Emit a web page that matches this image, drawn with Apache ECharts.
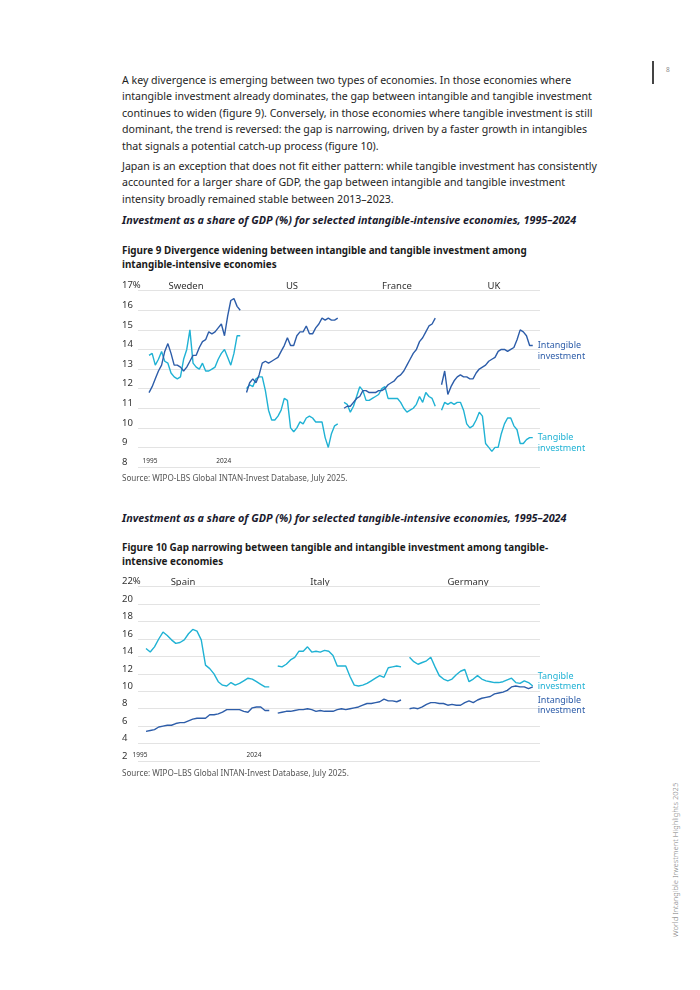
<!DOCTYPE html>
<html>
<head>
<meta charset="utf-8">
<script src="https://cdn.jsdelivr.net/npm/echarts@6/dist/echarts.min.js"></script>
<style>
  html, body { margin:0; padding:0; background:#fff; }
  body { width:700px; height:990px; position:relative; overflow:hidden; font-family:"Noto Sans", sans-serif; }
  .t { position:absolute; left:122px; white-space:nowrap; color:#1e1e1e; }
  .p { font-size:10.6px; line-height:16.5px; }
  .h { font-size:10.8px; font-weight:bold; font-style:italic; color:#1b1b2e; line-height:14px; }
  .f { font-size:9.9px; font-weight:bold; color:#1b1b1b; line-height:14px; }
  .s { font-size:8.1px; color:#555; line-height:12px; }
  .chart { position:absolute; left:0; width:700px; }
</style>
</head>
<body>
<div style="position:absolute;left:652px;top:61px;width:1.5px;height:23px;background:#444;"></div>
<div style="position:absolute;left:666px;top:65px;font-size:6.5px;color:#888;">8</div>

<div class="t p" style="top:71.7px;">A key divergence is emerging between two types of economies. In those economies where<br>intangible investment already dominates, the gap between intangible and tangible investment<br>continues to widen (figure 9). Conversely, in those economies where tangible investment is still<br>dominant, the trend is reversed: the gap is narrowing, driven by a faster growth in intangibles<br>that signals a potential catch-up process (figure 10).</div>
<div class="t p" style="top:157.7px;">Japan is an exception that does not fit either pattern: while tangible investment has consistently<br>accounted for a larger share of GDP, the gap between intangible and tangible investment<br>intensity broadly remained stable between 2013–2023.</div>

<div class="t h" style="top:213px;">Investment as a share of GDP (%) for selected intangible-intensive economies, 1995–2024</div>
<div class="t f" style="top:243px;">Figure 9 Divergence widening between intangible and tangible investment among<br>intangible-intensive economies</div>
<div id="c9" class="chart" style="top:270px;height:210px;"></div>
<div class="t s" style="top:472px;">Source: WIPO-LBS Global INTAN-Invest Database, July 2025.</div>

<div class="t h" style="top:511px;">Investment as a share of GDP (%) for selected tangible-intensive economies, 1995–2024</div>
<div class="t f" style="top:540px;">Figure 10 Gap narrowing between tangible and intangible investment among tangible-<br>intensive economies</div>
<div id="c10" class="chart" style="top:570px;height:200px;"></div>
<div class="t s" style="top:767px;">Source: WIPO–LBS Global INTAN-Invest Database, July 2025.</div>

<div style="position:absolute;left:675px;top:860px;transform:translate(-50%,-50%) rotate(-90deg);white-space:nowrap;font-size:7.6px;color:#777;font-weight:300;">World Intangible Investment Highlights 2025</div>

<script>
// ---------- Figure 9 data (intangible-intensive) ----------
const fig9Panels = ['Sweden', 'US', 'France', 'UK'];
const fig9TickLabels = ['1995', '2024'];
const fig9TickPos = [0.3, 23.75];
const swedenIntangible = [11.8, 12.1, 12.5, 12.9, 13.2, 13.9, 14.3, 13.8, 13.2, 13.2, 13.1, 12.9, 13.1, 13.4, 13.7, 13.7, 14.1, 14.4, 14.5, 14.9, 14.8, 14.9, 15.1, 15.3, 14.7, 15.7, 16.5, 16.6, 16.2, 16.0];
const swedenTangible = [13.7, 13.8, 13.2, 13.5, 13.9, 13.4, 13.3, 12.8, 12.6, 12.5, 12.6, 13.5, 14.0, 15.0, 13.3, 13.1, 13.0, 13.3, 12.9, 12.9, 13.0, 13.1, 13.5, 13.8, 14.0, 13.6, 13.2, 13.8, 14.7, 14.7];
const usIntangible = [11.8, 12.3, 12.5, 12.3, 12.7, 13.3, 13.4, 13.3, 13.4, 13.5, 13.6, 13.9, 14.2, 14.6, 14.2, 14.2, 14.7, 14.9, 14.9, 15.2, 14.8, 14.8, 15.1, 15.3, 15.6, 15.5, 15.6, 15.5, 15.5, 15.6];
const usTangible = [12.0, 12.2, 12.1, 12.5, 12.6, 12.6, 11.9, 10.9, 10.4, 10.4, 10.6, 10.9, 11.5, 11.4, 10.0, 9.8, 10.0, 10.3, 10.2, 10.5, 10.6, 10.5, 10.3, 10.3, 10.3, 9.5, 9.0, 9.7, 10.1, 10.2];
const franceIntangible = [11.0, 11.1, 11.1, 11.3, 11.5, 11.6, 11.9, 11.9, 11.8, 11.8, 11.8, 11.9, 11.9, 12.0, 12.2, 12.3, 12.4, 12.6, 12.7, 12.9, 13.2, 13.5, 13.8, 14.0, 14.4, 14.6, 14.9, 15.2, 15.3, 15.6];
const franceTangible = [11.3, 11.2, 10.8, 11.1, 11.6, 12.1, 11.9, 11.4, 11.4, 11.5, 11.6, 11.7, 12.0, 12.1, 11.5, 11.5, 11.5, 11.5, 11.3, 11.0, 10.8, 10.9, 11.0, 11.2, 11.6, 11.3, 11.8, 11.6, 11.5, 11.1];
const ukIntangible = [12.2, 12.9, 11.7, 12.1, 12.4, 12.6, 12.7, 12.6, 12.6, 12.5, 12.5, 12.8, 13.0, 13.1, 13.2, 13.4, 13.5, 13.6, 13.9, 14.0, 14.0, 13.9, 14.0, 14.1, 14.5, 15.0, 14.9, 14.7, 14.2, 14.2];
const ukTangible = [10.9, 11.3, 11.2, 11.3, 11.2, 11.3, 11.3, 10.9, 10.2, 10.0, 10.1, 10.4, 10.8, 10.6, 9.2, 9.0, 8.8, 9.0, 9.0, 9.7, 10.2, 10.5, 10.5, 10.1, 9.9, 9.2, 9.2, 9.4, 9.5, 9.5];

// ---------- Figure 10 data (tangible-intensive) ----------
const fig10Panels = ['Spain', 'Italy', 'Germany'];
const fig10TickLabels = ['1995', '2024'];
const fig10TickPos = [-1.4, 25.4];
const spainTangible = [14.9, 14.5, 15.1, 16.0, 16.8, 16.4, 15.9, 15.5, 15.6, 15.9, 16.6, 17.1, 16.9, 15.9, 13.0, 12.6, 12.0, 11.1, 10.7, 10.6, 11.0, 10.7, 10.9, 11.2, 11.5, 11.4, 11.1, 10.8, 10.5, 10.5];
const spainIntangible = [5.4, 5.5, 5.6, 5.9, 6.0, 6.1, 6.1, 6.3, 6.4, 6.4, 6.6, 6.8, 6.9, 6.9, 6.9, 7.3, 7.3, 7.4, 7.6, 7.9, 7.9, 7.9, 7.9, 7.7, 7.6, 8.1, 8.2, 8.2, 7.8, 7.8];
const italyTangible = [12.9, 12.8, 13.1, 13.6, 13.9, 14.6, 14.6, 15.1, 14.5, 14.6, 14.5, 14.7, 14.6, 14.1, 12.9, 12.9, 12.9, 11.7, 10.7, 10.6, 10.7, 10.9, 11.2, 11.5, 11.8, 11.6, 12.7, 12.8, 12.9, 12.8];
const italyIntangible = [7.5, 7.6, 7.7, 7.7, 7.8, 7.9, 7.9, 8.0, 7.9, 7.7, 7.8, 7.7, 7.7, 7.7, 7.9, 8.0, 7.9, 8.0, 8.1, 8.2, 8.4, 8.6, 8.6, 8.7, 8.8, 9.1, 8.9, 8.9, 8.8, 9.0];
const germanyTangible = [13.9, 13.4, 13.1, 13.3, 13.5, 13.9, 12.8, 11.8, 11.4, 11.2, 11.4, 11.9, 12.3, 12.5, 11.1, 11.4, 11.8, 11.4, 11.2, 11.1, 11.0, 11.0, 11.1, 11.3, 11.5, 11.0, 10.9, 11.2, 11.0, 10.6];
const germanyIntangible = [8.0, 8.1, 8.0, 8.2, 8.5, 8.7, 8.7, 8.6, 8.6, 8.4, 8.5, 8.4, 8.4, 8.7, 8.9, 8.7, 9.0, 9.2, 9.3, 9.4, 9.7, 9.8, 9.9, 10.1, 10.5, 10.6, 10.5, 10.5, 10.3, 10.5];

const DARK = '#2d5da9';
const LIGHT = '#20b2d4';
const PANEL_STRIDE = 31;

function toXY(values, panelIdx) {
  return values.map((v, i) => [panelIdx * PANEL_STRIDE + i, v]);
}

function lineSeries(values, panelIdx, color, endLabel) {
  const s = {
    type: 'line', data: toXY(values, panelIdx), showSymbol: false, silent: true,
    lineStyle: { color: color, width: 1.4 }, itemStyle: { color: color }, z: color === DARK ? 3 : 2
  };
  if (endLabel) {
    s.endLabel = Object.assign({ show: true, color: color, fontSize: 9, lineHeight: 10.5,
      fontFamily: 'Noto Sans', distance: 5 }, endLabel);
  }
  return s;
}

function tickFormatter(pos, labels) {
  return function (v) {
    let best = 0;
    for (let i = 1; i < pos.length; i++) if (Math.abs(pos[i] - v) < Math.abs(pos[best] - v)) best = i;
    return labels[best];
  };
}

function baseOption(gridTop, gridBottom, xMin, xMax, yMin, yMax, yInt, tickPos, tickLabels) {
  return {
    animation: false,
    textStyle: { fontFamily: 'Noto Sans' },
    grid: { left: 138, right: 160, top: gridTop, bottom: gridBottom, containLabel: false },
    xAxis: {
      type: 'value', min: xMin, max: xMax,
      splitLine: { show: false }, axisLine: { show: false }, axisTick: { show: false },
      axisLabel: { customValues: tickPos, formatter: tickFormatter(tickPos, tickLabels),
        inside: true, margin: 2, fontSize: 6.5, color: '#333', fontFamily: 'Noto Sans' }
    },
    yAxis: {
      type: 'value', min: yMin, max: yMax, interval: yInt,
      axisLine: { show: false }, axisTick: { show: false },
      splitLine: { lineStyle: { color: '#e3e3e3', width: 1 } },
      axisLabel: { align: 'left', margin: 16, verticalAlign: 'bottom', fontSize: 9.5, color: '#333',
        fontFamily: 'Noto Sans', padding: [0, 0, 0, 0],
        formatter: v => (v === yMax ? v + '%' : String(v)) }
    }
  };
}

function panelTitle(text, x, y) {
  return { type: 'text', x: x, y: y, silent: true,
    style: { text: text, textAlign: 'center', textVerticalAlign: 'middle', fontSize: 9.5,
      fill: '#333', fontFamily: 'Noto Sans' } };
}

// ---------- Figure 9 ----------
const c9 = echarts.init(document.getElementById('c9'), null, { renderer: 'canvas' });
const opt9 = baseOption(20.7, 13, -3.5, 124.3, 8, 17, 1, fig9TickPos, fig9TickLabels);
const fig9Intangible = [swedenIntangible, usIntangible, franceIntangible, ukIntangible];
const fig9Tangible = [swedenTangible, usTangible, franceTangible, ukTangible];
opt9.series = [];
fig9Panels.forEach((p, k) => {
  const last = k === fig9Panels.length - 1;
  opt9.series.push(lineSeries(fig9Tangible[k], k, LIGHT,
    last ? { formatter: 'Tangible\ninvestment', offset: [0, 5.5] } : null));
  opt9.series.push(lineSeries(fig9Intangible[k], k, DARK,
    last ? { formatter: 'Intangible\ninvestment', offset: [0, 5.5] } : null));
});
opt9.graphic = [panelTitle('Sweden', 186, 16), panelTitle('US', 292, 16),
  panelTitle('France', 397, 16), panelTitle('UK', 494, 16)];
c9.setOption(opt9);

// ---------- Figure 10 ----------
const c10 = echarts.init(document.getElementById('c10'), null, { renderer: 'canvas' });
const opt10 = baseOption(16.7, 9, -1.88, 92.7, 2, 22, 2, fig10TickPos, fig10TickLabels);
const fig10Tangible = [spainTangible, italyTangible, germanyTangible];
const fig10Intangible = [spainIntangible, italyIntangible, germanyIntangible];
opt10.series = [];
fig10Panels.forEach((p, k) => {
  const last = k === fig10Panels.length - 1;
  opt10.series.push(lineSeries(fig10Tangible[k], k, LIGHT,
    last ? { formatter: 'Tangible\ninvestment', offset: [0, -4.5] } : null));
  opt10.series.push(lineSeries(fig10Intangible[k], k, DARK,
    last ? { formatter: 'Intangible\ninvestment', offset: [0, 18.5] } : null));
});
opt10.graphic = [panelTitle('Spain', 183, 12), panelTitle('Italy', 320, 12),
  panelTitle('Germany', 468, 12)];
c10.setOption(opt10);
</script>
</body>
</html>
